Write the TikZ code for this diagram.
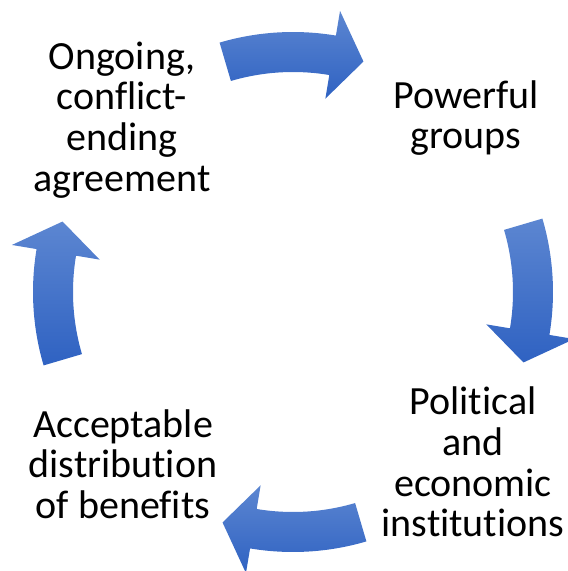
\documentclass[tikz,border=0pt]{standalone}
\usepackage{fontspec}
\setmainfont{Carlito}[Ligatures=NoCommon]
\definecolor{arrowtop}{RGB}{92,134,209}
\definecolor{arrowbot}{RGB}{47,98,194}
\tikzset{
  stagenode/.style={align=center, font=\fontsize{40}{40.7}\selectfont, inner sep=0pt},
  cyclearrow/.style={top color=arrowtop, bottom color=arrowbot, draw=none}
}
\newcommand{\blockarc}[1]{%
  \path[cyclearrow] (#1+16.4:260pt) arc[start angle=#1+16.4, end angle=#1-9.5, radius=260pt]
    -- (#1-9.5:285pt) -- (#1-17:241pt) -- (#1-9.5:196pt) -- (#1-9.5:220pt)
    arc[start angle=#1-9.5, end angle=#1+16.4, radius=220pt] -- cycle;}

\begin{document}
\begin{tikzpicture}[x=1pt, y=1pt]
      \useasboundingbox (-293,-279) rectangle (275,292);
      \blockarc{90}
      \blockarc{0}
      \blockarc{270}
      \blockarc{180}
      \node[stagenode] (agree) at (-171,172) {Ongoing,\\conflict-\\ending\\agreement};
      \node[stagenode] (groups) at (173,174) {Powerful\\groups};
      \node[stagenode] (inst) at (180,-170) {Political\\and\\economic\\institutions};
      \node[stagenode] (benefits) at (-170,-172) {Acceptable\\distribution\\of benefits};
    \end{tikzpicture}
\end{document}
